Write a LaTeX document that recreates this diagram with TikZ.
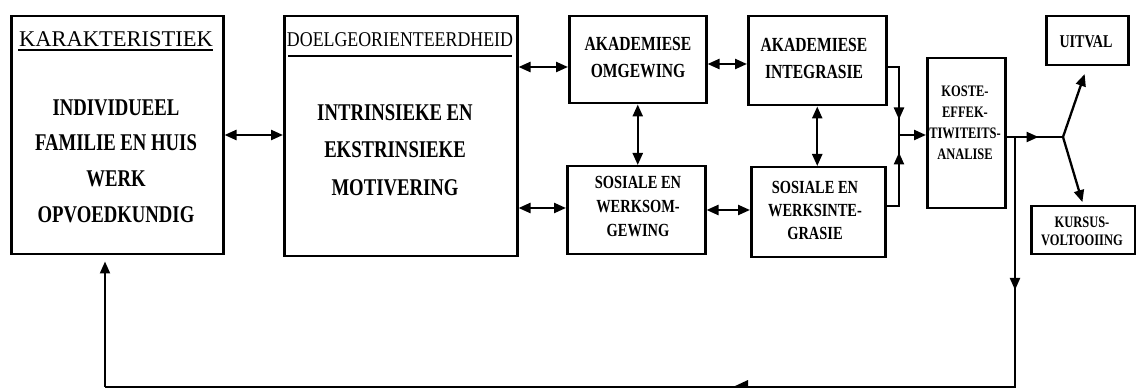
\documentclass[tikz,border=0pt]{standalone}
\usepackage{fontspec}
\setmainfont{Liberation Serif}
\newfontfamily\condbf[FakeStretch=0.78]{Liberation Serif Bold}
\newfontfamily\condrm[FakeStretch=0.85]{Liberation Serif}
\usetikzlibrary{arrows.meta,decorations.markings}

\begin{document}
\begin{tikzpicture}[x=1pt,y=-1pt,line width=2.3pt,
  box/.style={draw,line width=2.5pt,rectangle,inner sep=0pt,anchor=north west},
  txt/.style={align=center,inner sep=0pt,font=#1},
  tip/.style={-{Triangle[length=12pt,width=10pt]}},
  dbl/.style={{Triangle[length=12pt,width=10pt]}-{Triangle[length=12pt,width=10pt]}},
  midtip/.style={postaction={decorate},decoration={markings,
      mark=at position #1 with {\arrow{Triangle[length=12pt,width=10pt]}}}}]
\useasboundingbox (0,0) rectangle (1136,390);

% boxes
\node[box,minimum width=212pt,minimum height=238pt] (kar) at (10,15) {};
\node[box,minimum width=233pt,minimum height=240pt] (doel) at (283,15) {};
\node[box,minimum width=137pt,minimum height=87pt] (ao) at (568,15) {};
\node[box,minimum width=138pt,minimum height=88pt] (sw) at (566,165) {};
\node[box,minimum width=138pt,minimum height=89pt] (ai) at (747,15) {};
\node[box,minimum width=134pt,minimum height=90pt] (si) at (750,166) {};
\node[box,minimum width=78pt,minimum height=150pt] (koste) at (926,57) {};
\node[box,minimum width=82pt,minimum height=49pt] (uit) at (1045,15) {};
\node[box,minimum width=104pt,minimum height=48pt] (kur) at (1030,205) {};

% headers with underlines
\node[txt=\fontsize{22.5}{27}\selectfont] (karh) at (116,39) {KARAKTERISTIEK};
\draw[line width=2pt] (18,50) -- (213,50);
\node[txt=\condrm\fontsize{21}{25}\selectfont] (doelh) at (400,40) {DOELGEORIENTEERDHEID};
\draw[line width=2pt] (288,56) -- (512,56);

% box texts
\node[txt=\condbf\fontsize{24}{35.7}\selectfont] (karb) at (116,161)
  {INDIVIDUEEL\\FAMILIE EN HUIS\\WERK\\OPVOEDKUNDIG};
\node[txt=\condbf\fontsize{24}{37.5}\selectfont] (doelb) at (395,150)
  {INTRINSIEKE EN\\EKSTRINSIEKE\\MOTIVERING};
\node[txt=\condbf\fontsize{20}{27}\selectfont] (aot) at (638,58) {AKADEMIESE\\OMGEWING};
\node[txt=\condbf\fontsize{20}{27}\selectfont] (ait) at (814,58) {AKADEMIESE\\INTEGRASIE};
\node[txt=\condbf\fontsize{18.5}{24}\selectfont] (swt) at (638,207) {SOSIALE EN\\WERKSOM-\\GEWING};
\node[txt=\condbf\fontsize{18.5}{23}\selectfont] (sit) at (815,210) {SOSIALE EN\\WERKSINTE-\\GRASIE};
\node[txt=\condbf\fontsize{16}{21}\selectfont] (kostet) at (965,123)
  {KOSTE-\\EFFEK-\\TIWITEITS-\\ANALISE};
\node[txt=\condbf\fontsize{18}{20}\selectfont] (uitt) at (1086,42) {UITVAL};
\node[txt=\condbf\fontsize{16}{18}\selectfont] (kurt) at (1082,231) {KURSUS-\\VOLTOOIING};

% junctions
\coordinate (join) at (899,135);
\coordinate (fork) at (1063,137);
\coordinate (split) at (1015,137);
\coordinate (fbR) at (1015,387);
\coordinate (fbL) at (105,387);

% connectors
\draw[dbl] (kar.east |- 0,135) -- (doel.west |- 0,135);
\draw[dbl] (doel.east |- 0,67) -- (ao.west |- 0,67);
\draw[dbl] (doel.east |- 0,208) -- (sw.west |- 0,208);
\draw[dbl] (ao.east |- 0,64) -- (ai.west |- 0,64);
\draw[dbl] (sw.east |- 0,210) -- (si.west |- 0,210);
\draw[dbl] (ao.south) -- (ao.south |- sw.north);
\draw[dbl] (ai.south) -- (ai.south |- si.north);

\draw[midtip=64pt] (ai.east |- 0,67) -| (join);
\draw[midtip=66pt] (si.east |- 0,206) -| (join);
\draw[tip] (join) -- (koste.west |- join);

\draw[midtip=32pt] (koste.east |- fork) -- (fork);
\draw[tip,shorten >=8pt] (fork) -- (uit.south);
\draw[tip,shorten >=3pt] (fork) -- (kur.north);

% feedback loop
\draw[midtip=153pt,line width=2pt] (split) -- (fbR) -- (fbL);
\draw[tip,line width=2pt,shorten >=6pt] (fbL) -- (kar.south -| fbL);
\fill (733,387) -- (748,380) -- (748,387) -- cycle;
\end{tikzpicture}
\end{document}
